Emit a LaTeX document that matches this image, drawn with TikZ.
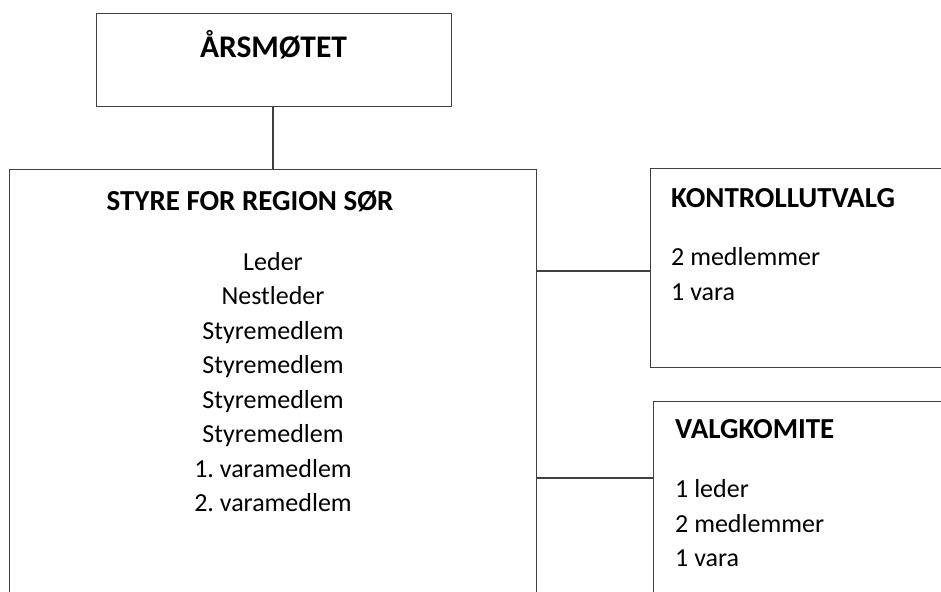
\documentclass[tikz,border=0pt]{standalone}
\usepackage{fontspec}
\setmainfont{Carlito}
\begin{document}
\begin{tikzpicture}[x=1pt,y=-1pt,
  box/.style={draw=linegray, line width=1.3pt, rectangle, inner sep=0pt, anchor=north west},
  conn/.style={draw=linegray, line width=1.3pt},
  ttl/.style={font=\fontsize{29}{34}\selectfont\bfseries, inner sep=0pt, anchor=base},
  body/.style={font=\fontsize{26}{34.5}\selectfont\frenchspacing, inner sep=0pt, anchor=base},
]
\definecolor{linegray}{HTML}{404040}
\useasboundingbox (0,0) rectangle (941,591);
\clip (0,0) rectangle (941,591);
% boxes
\node[box, minimum width=355pt, minimum height=93pt] (ars) at (96,13) {};
\node[box, minimum width=527pt, minimum height=460pt] (styre) at (9,169) {};
\node[box, minimum width=320pt, minimum height=199pt] (kontroll) at (650,168) {};
\node[box, minimum width=320pt, minimum height=230pt] (valg) at (653,401) {};
% titles
\node[ttl, font=\fontsize{31.5}{36}\selectfont\bfseries] (arst) at (273.5,58) {ÅRSMØTET};
\node[ttl] (styret) at (250,210) {STYRE FOR REGION SØR};
\node[ttl, anchor=base west] (kontrollt) at (671,207) {KONTROLLUTVALG};
\node[ttl, anchor=base west] (valgt) at (675,438) {VALGKOMITE};
% styre members
\node[body] (m1) at (273,270) {Leder};
\node[body] (m2) at (273,304.5) {Nestleder};
\node[body] (m3) at (273,339) {Styremedlem};
\node[body] (m4) at (273,373.5) {Styremedlem};
\node[body] (m5) at (273,408) {Styremedlem};
\node[body] (m6) at (273,442.5) {Styremedlem};
\node[body] (m7) at (273,477) {1. varamedlem};
\node[body] (m8) at (273,511.5) {2. varamedlem};
% kontrollutvalg
\node[body, anchor=base west] (k1) at (671,265) {2 medlemmer};
\node[body, anchor=base west] (k2) at (671,300) {1 vara};
% valgkomite
\node[body, anchor=base west] (v1) at (675,497) {1 leder};
\node[body, anchor=base west] (v2) at (675,532) {2 medlemmer};
\node[body, anchor=base west] (v3) at (675,566.5) {1 vara};
% connectors
\coordinate (ck) at (600,271);
\coordinate (cv) at (600,478);
\draw[conn] (ars.south -| 273,0) -- (styre.north -| 273,0);
\draw[conn] (styre.east |- ck) -- (kontroll.west |- ck);
\draw[conn] (styre.east |- cv) -- (valg.west |- cv);
\end{tikzpicture}
\end{document}
